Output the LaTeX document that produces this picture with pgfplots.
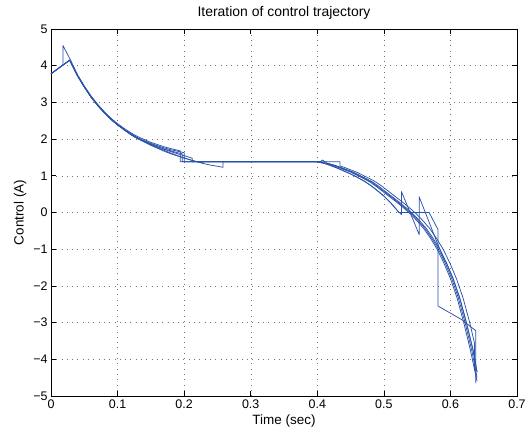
\documentclass[border=0pt]{standalone}
\usepackage{fontspec}
\setmainfont{Liberation Sans}
\usepackage{pgfplots}
\pgfplotsset{compat=1.18}
\definecolor{mblue}{RGB}{42,82,170}
\tikzset{iter/.style={mblue, line width=0.75bp, line join=round, mark=none}}

\begin{document}
\begin{tikzpicture}
\path[use as bounding box] (-51bp,-42bp) rectangle (477bp,396bp);
\begin{axis}[
  width=466bp, height=367bp, scale only axis,
  xmin=0, xmax=0.7, ymin=-5, ymax=5,
  xtick={0,0.1,0.2,0.3,0.4,0.5,0.6,0.7},
  xticklabels={0,0.1,0.2,0.3,0.4,0.5,0.6,0.7},
  ytick={-5,-4,-3,-2,-1,0,1,2,3,4,5},
  yticklabels={−5,−4,−3,−2,−1,0,1,2,3,4,5},
  grid=major,
  major grid style={black!55, dash pattern=on 0.8bp off 4.5bp},
  tick align=inside, major tick length=5bp,
  tick style={black, line width=0.6bp},
  axis line style={line width=0.7bp},
  tick label style={font=\fontsize{12.5}{14}\selectfont},
  label style={font=\fontsize{13.5}{15}\selectfont},
  title style={font=\fontsize{14}{16}\selectfont},
  title={Iteration of control trajectory},
  xlabel={Time (sec)}, ylabel={Control (A)},
]
% iteration 1
\addplot[iter] coordinates {(0,3.78) (0.028,4.15) (0.04,3.72) (0.05,3.42) (0.06,3.15) (0.07,2.92) (0.08,2.72) (0.09,2.54) (0.10,2.39) (0.11,2.26) (0.12,2.14) (0.13,2.04) (0.14,1.96) (0.15,1.88) (0.16,1.82) (0.17,1.76) (0.18,1.71) (0.19,1.67) (0.20,1.63) (0.20,1.38) (0.40,1.38) (0.41,1.35) (0.42,1.30) (0.43,1.24) (0.44,1.17) (0.45,1.10) (0.46,1.01) (0.47,0.92) (0.48,0.82) (0.49,0.69) (0.50,0.55) (0.51,0.41) (0.52,0.27) (0.53,0.12) (0.54,-0.04) (0.55,-0.23) (0.56,-0.44) (0.57,-0.70) (0.58,-1.00) (0.59,-1.37) (0.60,-1.80) (0.61,-2.33) (0.62,-3.00) (0.63,-3.75) (0.64,-4.60)};
% iteration 2
\addplot[iter] coordinates {(0,3.78) (0.018,4.02) (0.018,4.55) (0.03,4.13) (0.04,3.75) (0.05,3.45) (0.06,3.18) (0.07,2.95) (0.08,2.75) (0.09,2.57) (0.10,2.42) (0.11,2.29) (0.12,2.17) (0.13,2.07) (0.14,1.99) (0.15,1.91) (0.16,1.85) (0.17,1.79) (0.18,1.74) (0.194,1.68) (0.194,1.38) (0.404,1.38) (0.408,1.43) (0.414,1.35) (0.424,1.30) (0.434,1.24) (0.444,1.17) (0.454,1.10) (0.464,1.01) (0.474,0.92) (0.484,0.82) (0.494,0.69) (0.504,0.55) (0.514,0.41) (0.524,0.27) (0.534,0.12) (0.544,-0.04) (0.554,-0.23) (0.564,-0.44) (0.574,-0.70) (0.584,-1.00) (0.594,-1.37) (0.604,-1.80) (0.614,-2.33) (0.624,-3.00) (0.634,-3.75) (0.64,-4.35)};
% iteration 3
\addplot[iter] coordinates {(0,3.78) (0.028,4.15) (0.04,3.72) (0.05,3.42) (0.06,3.15) (0.07,2.92) (0.08,2.72) (0.09,2.54) (0.10,2.39) (0.11,2.26) (0.12,2.13) (0.13,2.02) (0.14,1.93) (0.15,1.84) (0.16,1.76) (0.17,1.69) (0.18,1.62) (0.19,1.55) (0.20,1.49) (0.21,1.43) (0.22,1.38) (0.228,1.35) (0.228,1.38) (0.40,1.38) (0.41,1.34) (0.42,1.28) (0.43,1.21) (0.44,1.13) (0.45,1.05) (0.46,0.96) (0.47,0.86) (0.48,0.74) (0.49,0.60) (0.50,0.45) (0.51,0.27) (0.52,0.06) (0.522,0) (0.568,0) (0.5815,-0.47) (0.5815,-2.55) (0.617,-2.92) (0.638,-3.22) (0.638,-4.65)};
% iteration 4
\addplot[iter] coordinates {(0,3.78) (0.028,4.15) (0.04,3.72) (0.05,3.42) (0.06,3.15) (0.07,2.92) (0.08,2.72) (0.09,2.54) (0.10,2.39) (0.11,2.25) (0.12,2.12) (0.13,2.01) (0.14,1.92) (0.15,1.83) (0.16,1.75) (0.17,1.67) (0.18,1.60) (0.19,1.54) (0.20,1.48) (0.21,1.43) (0.22,1.38) (0.23,1.33) (0.24,1.29) (0.25,1.26) (0.2585,1.23) (0.2585,1.38) (0.40,1.38) (0.41,1.34) (0.42,1.28) (0.43,1.21) (0.44,1.13) (0.45,1.05) (0.46,0.96) (0.47,0.86) (0.48,0.74) (0.49,0.60) (0.50,0.45) (0.51,0.27) (0.52,0.06) (0.5265,-0.06) (0.5265,0.57) (0.553,-0.60) (0.553,0.43) (0.58,-0.82) (0.59,-1.25) (0.594,-1.37) (0.604,-1.80) (0.614,-2.33) (0.624,-3.00) (0.634,-3.75) (0.64,-4.35)};
% iteration 5
\addplot[iter] coordinates {(0,3.78) (0.028,4.15) (0.04,3.72) (0.05,3.42) (0.06,3.15) (0.07,2.92) (0.08,2.72) (0.09,2.54) (0.10,2.39) (0.11,2.26) (0.12,2.14) (0.13,2.03) (0.14,1.94) (0.15,1.86) (0.16,1.79) (0.17,1.72) (0.18,1.66) (0.19,1.60) (0.20,1.55) (0.212,1.48) (0.212,1.38) (0.434,1.38) (0.434,1.27) (0.439,1.24) (0.449,1.17) (0.459,1.10) (0.469,1.01) (0.479,0.92) (0.489,0.82) (0.499,0.69) (0.509,0.55) (0.519,0.41) (0.529,0.27) (0.539,0.12) (0.549,-0.04) (0.559,-0.23) (0.569,-0.44) (0.579,-0.70) (0.589,-1.00) (0.599,-1.37) (0.609,-1.80) (0.619,-2.33) (0.629,-3.00) (0.636,-3.55) (0.636,-4.30)};
% iteration 6
\addplot[iter] coordinates {(0,3.78) (0.028,4.15) (0.04,3.72) (0.05,3.42) (0.06,3.15) (0.07,2.92) (0.08,2.72) (0.09,2.54) (0.10,2.38) (0.11,2.25) (0.12,2.12) (0.13,2.02) (0.14,1.94) (0.15,1.86) (0.16,1.79) (0.17,1.73) (0.18,1.68) (0.19,1.63) (0.197,1.60) (0.197,1.38) (0.402,1.38) (0.412,1.35) (0.422,1.30) (0.432,1.24) (0.442,1.17) (0.452,1.10) (0.462,1.01) (0.472,0.92) (0.482,0.82) (0.492,0.69) (0.502,0.55) (0.512,0.41) (0.522,0.27) (0.532,0.12) (0.542,-0.04) (0.552,-0.23) (0.562,-0.44) (0.572,-0.70) (0.582,-1.00) (0.592,-1.37) (0.602,-1.80) (0.612,-2.33) (0.622,-3.00) (0.632,-3.75) (0.64,-4.50)};
\end{axis}
\end{tikzpicture}
\end{document}
